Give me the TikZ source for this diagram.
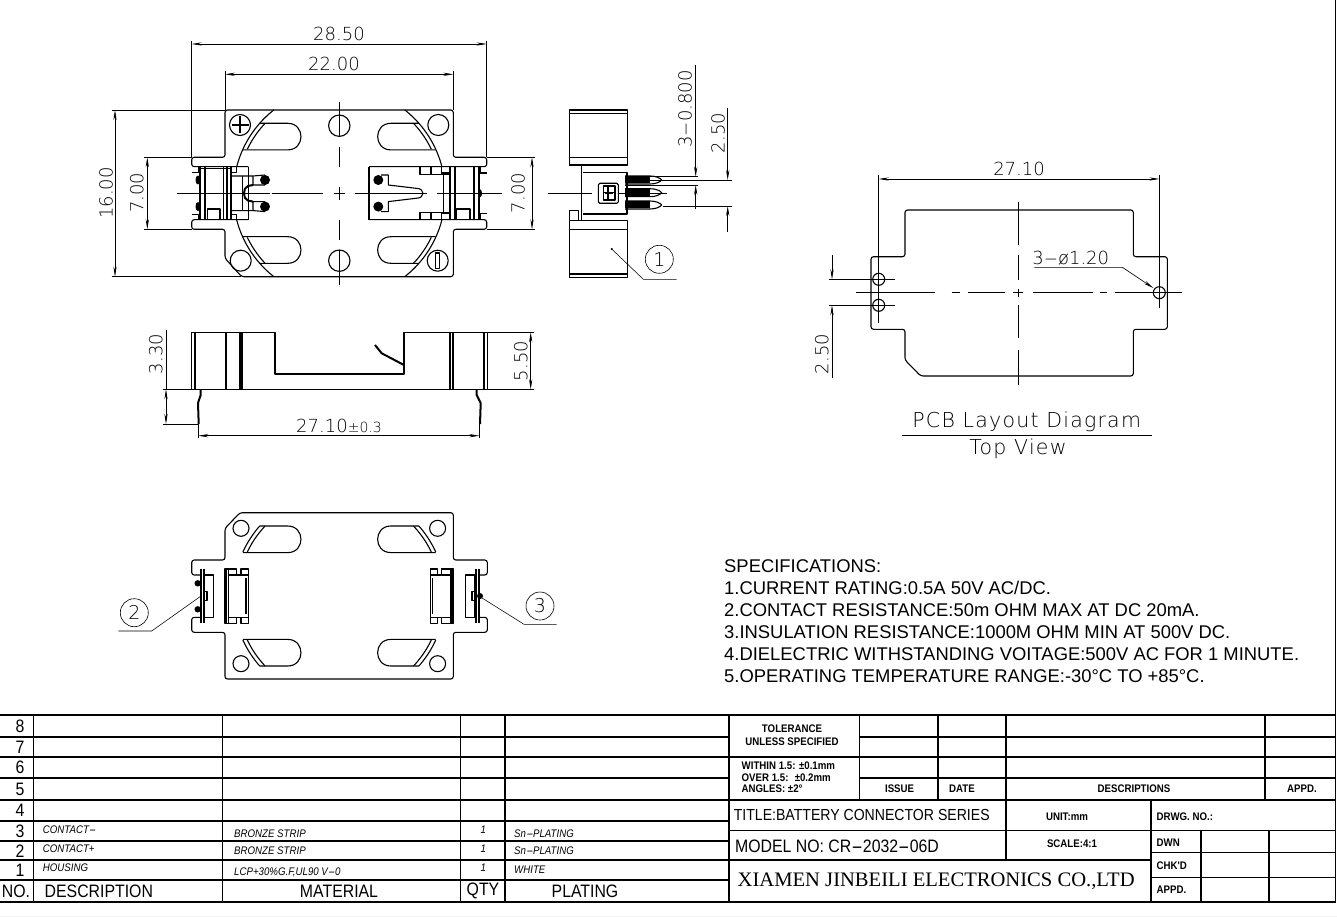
\documentclass[tikz,border=0pt]{standalone}
\usepackage{fontspec}
\usepackage{graphicx}
\usetikzlibrary{arrows.meta,positioning,calc}
\setmainfont{Liberation Sans}
\newfontfamily\cadfont{DejaVu Sans ExtraLight}
\newfontfamily\narrowfont[FakeStretch=0.88]{Liberation Sans}
\newfontfamily\serifname{Liberation Serif}
\newcommand{\fsz}[1]{\fontsize{#1}{#1}\selectfont}
\newcommand{\widedash}{\scalebox{2.2}[1]{-}}

\begin{document}
\begin{tikzpicture}[
    x=1pt, y=-1pt,
    part/.style={line width=1.1pt, line join=round},
    heavy/.style={line width=2pt},
    hair/.style={line width=0.55pt},
    center/.style={line width=0.7pt},
    dimline/.style={line width=0.6pt, >={Stealth[length=10pt,width=3.2pt]}},
    grid/.style={line width=1.1pt},
    dimtext/.style={inner sep=0pt, font=\cadfont\fsz{18}},
    rowno/.style={inner sep=0pt, font=\narrowfont\fsz{18}},
    head/.style={inner sep=0pt, font=\narrowfont\fsz{18}},
    entry/.style={inner sep=0pt, anchor=west, font=\narrowfont\itshape\fsz{11}},
    stamp/.style={inner sep=0pt, font=\narrowfont\bfseries\fsz{11}},
    balloon/.style={draw, circle, line width=0.6pt, minimum size=28pt, inner sep=0pt, font=\cadfont\fsz{19}}
]
\useasboundingbox (0,0) rectangle (1337,917);
\fill[gray!10] (0,915.5) rectangle (1337,917);

% Main view: body
\draw[part, rounded corners=2.5pt] (248.3,166.7) -- (191.7,166.7) -- (191.7,157.3) -- (225,157.3) -- (225,110) -- (453.3,110) -- (453.3,157.3) -- (486.7,157.3) -- (486.7,166.7) -- (369,166.7);
\draw[part, rounded corners=2.5pt] (248.3,219.7) -- (191.7,219.7) -- (191.7,229.3) -- (225,229.3) -- (225,258.3) -- (241.7,276.7) -- (453.3,276.7) -- (453.3,229.3) -- (486.7,229.3) -- (486.7,219.7) -- (369,219.7);
\draw[part] (248.3,166.7) -- (248.3,219.7);
\draw[part] (369,166.7) -- (369,219.7);

% Main view: slots and battery arc
\foreach \sx/\sy in {1/1,-1/1,1/-1,-1/-1} {
  \begin{scope}[shift={(339.3,193.3)}, xscale=\sx, yscale=\sy]
    \draw[part] (-79.6,-70) -- (-51.6,-70) .. controls (-33.9,-70) and (-33.9,-43.4) .. (-51.6,-43.4) -- (-96.4,-43.4);
    \draw[part] plot[domain=231.8:194.6, samples=24] ({106*cos(\x)},{106*sin(\x)});
    \draw[part] plot[domain=223.3:205.6, samples=14] ({102*cos(\x)},{102*sin(\x)});
  \end{scope}
}

% Main view: holes
\draw[part] (240,125) circle[radius=10.5];
\draw[part] (438.3,125) circle[radius=10.5];
\draw[part] (240.7,260.7) circle[radius=10.5];
\draw[part] (437.7,260.7) circle[radius=10.5];
\draw[part] (339.3,125.7) circle[radius=10.7];
\draw[part] (339.3,260.7) circle[radius=10.7];
\draw[line width=1.6pt] (231.5,125) -- (248.5,125) (240,116.5) -- (240,133.5);
\draw[part] (435.8,253) rectangle (439.6,268.4);

% Main view: contacts, mirrored top to bottom
\foreach \my/\sy in {0/1,386.6/-1} {
  \begin{scope}[shift={(0,\my)}, yscale=\sy]
    \draw[part] (191.7,172.3) -- (198.3,172.3) -- (198.3,166.7);
    \draw[part] (231.7,166.7) -- (231.7,172.3) -- (236.7,172.3) -- (236.7,166.7);
    \draw[part] (231,176) -- (253,176) -- (265,175) (253,176) -- (253,185) -- (265,185);
    \draw[part] (242.7,176) -- (242.7,193.3);
    \draw[heavy] (253,185) -- (248,186) .. controls (245,187) and (244,190) .. (244,193.3);
    \fill (265,180) circle[radius=5];
    \fill (198,180) ellipse[x radius=2.5, y radius=4.5];
    \draw[part] (420,166.7) -- (420,174.3) -- (450,174.3) (431,166.7) -- (431,174.3) (441.7,166.7) -- (441.7,174.3);
    \draw[part] (440.7,173) -- (449.3,173) -- (449.3,166.7) (480,166.7) -- (480,173) -- (486.7,173);
    \draw[part] (381,175) -- (388.3,175) -- (388.3,185) -- (416,188.3) .. controls (421,188.3) and (423,191) .. (423,193.3);
    \fill (378.3,180) circle[radius=5];
  \end{scope}
}
\draw[heavy] (200,166.7) -- (200,219.7) (205,166.7) -- (205,219.7);
\draw[part] (223.3,166.7) -- (223.3,219.7) (227,166.7) -- (227,219.7);
\draw[heavy] (231,166.7) -- (231,219.7);
\draw[part] (200,168.5) -- (231,168.5);
\draw[part] (205,219.7) -- (207.7,219.7) -- (207.7,209) -- (220,209) -- (220,219.7) -- (223.3,219.7);
\draw[part] (443.3,174.3) -- (443.3,212.3);
\draw[heavy] (450,166.7) -- (450,219.7) (455,166.7) -- (455,219.7) (474,166.7) -- (474,219.7) (479,166.7) -- (479,219.7);
\draw[part] (455,219.7) -- (456.7,219.7) -- (456.7,209) -- (470,209) -- (470,219.7) -- (474,219.7);
\fill (480,193.3) ellipse[x radius=2, y radius=4];

% Main view: center lines
\draw[center] (339.3,101.7) -- (339.3,136.7) (339.3,146.7) -- (339.3,166.7) (339.3,186.7) -- (339.3,200) (339.3,220) -- (339.3,240) (339.3,250) -- (339.3,285);
\draw[center] (176.7,193.3) -- (270,193.3) (271.7,193.3) -- (323,193.3) (334,193.3) -- (345,193.3) (355,193.3) -- (427,193.3) (437,193.3) -- (501.7,193.3);

% Main view: dimensions
\draw[hair] (191.7,40.7) -- (191.7,157.3) (486.7,40.7) -- (486.7,157.3);
\draw[dimline, <->] (191.7,44) -- (486.7,44);
\node[dimtext] (dimA) at (339,34) {28.50};
\draw[hair] (225,71) -- (225,110) (453.3,71) -- (453.3,110);
\draw[dimline, <->] (225,74.3) -- (453.3,74.3);
\node[dimtext] (dimB) at (334,64) {22.00};
\draw[hair] (111.7,110) -- (225,110) (111.7,276.7) -- (241,276.7);
\draw[dimline, <->] (115,110) -- (115,276.7);
\node[dimtext, rotate=90] (dimC) at (106,193) {16.00};
\draw[hair] (144,157.3) -- (191.7,157.3) (144,229.3) -- (191.7,229.3);
\draw[dimline, <->] (147.3,157.3) -- (147.3,229.3);
\node[dimtext, rotate=90] (dimD) at (136.7,192.7) {7.00};
\draw[hair] (486.7,157.3) -- (535,157.3) (486.7,229.3) -- (535,229.3);
\draw[dimline, <->] (532,157.3) -- (532,229.3);
\node[dimtext, rotate=90] (dimE) at (518,193) {7.00};

% Side view
\draw[part] (569.3,110) rectangle (627.3,165);
\draw[part] (569.3,220.7) rectangle (627.3,277.3);
\draw[part] (569.3,113.3) -- (627.3,113.3) (569.3,157.3) -- (627.3,157.3) (569.3,229.3) -- (627.3,229.3) (569.3,274) -- (627.3,274);
\draw[part] (569.3,165) -- (581.7,165) -- (581.7,220) (569.3,220.7) -- (569.3,210.7) -- (578.3,210.7) -- (578.3,220);
\draw[part] (583.3,172.3) -- (627,172.3) -- (627,214) -- (583.3,214);
\draw[part, rounded corners=1.5pt] (598.3,183.3) rectangle (618.3,203.3);
\draw[part] (603.3,186) rectangle (615,200) (603.3,192.7) -- (615,192.7) (608,186) -- (608,200);
\foreach \pinY in {180,192.7,205} {
  \draw[part] (625,\pinY-4) -- (650,\pinY-4) .. controls (656,\pinY-4) and (660,\pinY-2) .. (661.7,\pinY) .. controls (660,\pinY+2) and (656,\pinY+4) .. (650,\pinY+4) -- (625,\pinY+4);
  \fill (625,\pinY-3.5) rectangle (650,\pinY+3.5);
}
\draw[center] (547.7,193.3) -- (591.7,193.3) (605,193.3) -- (613,193.3) (618,193.3) -- (666.7,193.3);

% Side view: dimensions
\draw[hair] (625,176.7) -- (698.3,176.7) (625,185) -- (698.3,185);
\draw[dimline, ->] (695.7,65) -- (695.7,176.7);
\draw[dimline, ->] (695.7,209.3) -- (695.7,185);
\node[dimtext, rotate=90] (dimF) at (685,109) {3\widedash 0.800};
\draw[hair] (630,180) -- (731.7,180) (663.3,206) -- (731.7,206);
\draw[dimline, ->] (727.7,108.3) -- (727.7,180);
\draw[dimline, ->] (727.7,231.7) -- (727.7,206);
\node[dimtext, rotate=90] (dimG) at (718,133) {2.50};
\fill (611.7,249) circle[radius=1.2];
\draw[hair] (611.7,249) -- (643.3,279.3) -- (676.7,279.3);
\node[balloon] (itemA) at (659.3,259.3) {1};

% Front view
\draw[part] (191.7,332.3) -- (275,332.3) -- (275,374) -- (404,374) -- (404,332.3) -- (487.7,332.3) -- (487.7,389.3) -- (191.7,389.3) -- cycle;
\draw[part] (195,332.3) -- (195,389.3) (240,332.3) -- (240,389.3) (450,332.3) -- (450,389.3) (484,332.3) -- (484,389.3);
\draw[heavy] (225.7,332.3) -- (225.7,389.3) (242.3,332.3) -- (242.3,389.3) (453.3,332.3) -- (453.3,389.3);
\draw[heavy] (375,345) -- (381.7,353.3) -- (404,365);
\draw[heavy] (200.7,389.3) -- (200.7,395) -- (198,403) -- (198.7,424);
\draw[heavy] (476.7,389.3) -- (476.7,395) -- (480.7,403) -- (480,424);
\draw[hair] (198.3,424) -- (198.3,438) (479.3,424) -- (479.3,438);
\draw[dimline, <->] (198.3,435.7) -- (479.3,435.7);
\node[dimtext] (dimH) at (339,426) {27.10{\fsz{14}±0.3}};
\draw[hair] (162.7,389.3) -- (191.7,389.3) (162.7,424) -- (198,424);
\draw[hair] (166,330) -- (166,389.3);
\draw[dimline, <->] (166,389.3) -- (166,424);
\node[dimtext, rotate=90] (dimI) at (155.7,354) {3.30};
\draw[hair] (487.7,332.3) -- (534,332.3) (487.7,389.3) -- (534,389.3);
\draw[dimline, <->] (530.7,332.3) -- (530.7,389.3);
\node[dimtext, rotate=90] (dimJ) at (520.7,361) {5.50};

% Bottom view
\draw[part, rounded corners=2.5pt] (200,575) -- (191.7,575) -- (191.7,560) -- (225,560) -- (225,528.3) -- (240,512.7) -- (453.3,512.7) -- (453.3,560) -- (487.3,560) -- (487.3,575) -- (479,575);
\draw[part, rounded corners=2.5pt] (200,617.3) -- (191.7,617.3) -- (191.7,632.3) -- (225,632.3) -- (225,679) -- (453.3,679) -- (453.3,632.3) -- (487.3,632.3) -- (487.3,617.3) -- (479,617.3);
\foreach \sx/\sy in {1/1,-1/1,1/-1,-1/-1} {
  \begin{scope}[shift={(339.3,596)}, xscale=\sx, yscale=\sy]
    \draw[part] (-79.6,-70) -- (-51.6,-70) .. controls (-33.9,-70) and (-33.9,-43.4) .. (-51.6,-43.4) -- (-96.4,-43.4);
    \draw[part] plot[domain=221.3:204.5, samples=14] ({106*cos(\x)},{106*sin(\x)});
    \draw[part] plot[domain=223.3:205.6, samples=14] ({102*cos(\x)},{102*sin(\x)});
    \draw[part] (-98.3,-67.7) circle[radius=8];
  \end{scope}
}
\draw[heavy] (201,569) -- (201,623.3) (203.5,569) -- (203.5,623.3);
\draw[part] (204,575) rectangle (213.3,617.3);
\draw[part] (204,591.7) rectangle (207,600.7);
\fill (197.7,583.3) circle[radius=3.2];
\fill (197.7,609.3) circle[radius=3.2];
\draw[heavy] (476,569) -- (476,623.3) (478.5,569) -- (478.5,623.3);
\draw[part] (465.7,575) rectangle (475,617.3);
\draw[part] (472,591.7) rectangle (475,600.7);
\fill (480,596) circle[radius=3];
\foreach \mx/\sx in {0/1,678.6/-1} {
  \begin{scope}[shift={(\mx,0)}, xscale=\sx]
    \draw[part] (225,569) -- (236.7,569) -- (236.7,575) -- (241,575) -- (241,569) -- (248.3,569) -- (248.3,623.3) -- (241,623.3) -- (241,617.3) -- (236.7,617.3) -- (236.7,623.3) -- (225,623.3) -- cycle;
    \draw[heavy] (226.2,569) -- (226.2,623.3);
    \draw[part] (228.5,569) -- (228.5,623.3) (228.5,575) -- (236.7,575) (228.5,617.3) -- (236.7,617.3) (241,575) -- (248.3,575) (241,617.3) -- (248.3,617.3);
    \draw[part] (246,578) -- (246,614);
  \end{scope}
}
\draw[hair] (118.3,631) -- (151.7,631) -- (200,596.7);
\node[balloon] (itemB) at (134.3,612.7) {2};
\draw[hair] (556.7,624.3) -- (524,624.3) -- (480,596.7);
\node[balloon] (itemC) at (540,606) {3};

% PCB layout
\draw[part, rounded corners=2.5pt] (905,256.7) -- (905,210) -- (1133.3,210) -- (1133.3,256.7) -- (1167.3,256.7) -- (1167.3,329.3) -- (1133.3,329.3) -- (1133.3,376) -- (920.7,376) -- (905,360) -- (905,329.3) -- (871,329.3) -- (871,256.7) -- cycle;
\draw[part] (878.7,279.3) circle[radius=6];
\draw[part] (878.7,305.3) circle[radius=6];
\draw[part] (1159.3,292.7) circle[radius=6];
\draw[center] (1018.7,201.7) -- (1018.7,245) (1018.7,255) -- (1018.7,280) (1018.7,289) -- (1018.7,296.7) (1018.7,305) -- (1018.7,338) (1018.7,350) -- (1018.7,385);
\draw[center] (856,292.7) -- (935,292.7) (951.7,292.7) -- (960,292.7) (968,292.7) -- (1005,292.7) (1013,292.7) -- (1023,292.7) (1033,292.7) -- (1093,292.7) (1100,292.7) -- (1107,292.7) (1115,292.7) -- (1181.7,292.7);
\draw[hair] (878.7,175) -- (878.7,323.3) (1159.3,175) -- (1159.3,308.3);
\draw[dimline, <->] (878.7,179) -- (1159.3,179);
\node[dimtext] (dimK) at (1019,169.3) {27.10};
\draw[hair] (829.3,279.3) -- (895,279.3) (829.3,305.3) -- (895,305.3);
\draw[dimline, ->] (832,255) -- (832,279.3);
\draw[dimline, ->] (832,377.7) -- (832,305.3);
\node[dimtext, rotate=90] (dimL) at (821.7,354) {2.50};
\draw[dimline, ->] (1034.3,267.3) -- (1122.3,267.3) -- (1153.3,288);
\node[dimtext] (dimM) at (1070.7,258.3) {3\widedash ø1.20};
\node[dimtext, font=\cadfont\fsz{20.5}\addfontfeature{LetterSpace=6}] (pcbname) at (1026.7,421.7) {PCB Layout Diagram};
\node[dimtext, font=\cadfont\fsz{20.5}\addfontfeature{LetterSpace=6}] (pcbview) at (1018,449.3) {Top View};
\draw[hair] (902.3,435.7) -- (1151.7,435.7);

% Specifications
\node[inner sep=0pt, anchor=north west, align=left, font=\fontsize{18.4}{22.1}\selectfont] (specs) at (724,559.3) {SPECIFICATIONS:\\1.CURRENT RATING:0.5A 50V AC/DC.\\2.CONTACT RESISTANCE:50m OHM MAX AT DC 20mA.\\3.INSULATION RESISTANCE:1000M OHM MIN AT 500V DC.\\4.DIELECTRIC WITHSTANDING VOITAGE:500V AC FOR 1 MINUTE.\\5.OPERATING TEMPERATURE RANGE:-30°C TO +85°C.};

% Table grid
\draw[grid] (0,715) -- (1335.5,715) (1335.5,0) -- (1335.5,902);
\foreach \rowY in {737,757,778,800} \draw[grid] (0,\rowY) -- (729,\rowY);
\foreach \rowY in {821,841,860,880} \draw[grid] (0,\rowY) -- (729,\rowY);
\draw[grid] (0,902) -- (1335.5,902);
\foreach \colX in {33.5,222.6,460.5,505,729} \draw[grid] (\colX,715) -- (\colX,902);
\draw[grid] (729,757) -- (859.6,757) (729,800) -- (1335.5,800);
\foreach \rowY in {737,757,778} \draw[grid] (859.6,\rowY) -- (1335.5,\rowY);
\draw[grid] (859.6,715) -- (859.6,800) (938,715) -- (938,800) (1006,715) -- (1006,860) (1265,715) -- (1265,800);
\draw[grid] (729,830.7) -- (1335.5,830.7) (729,860) -- (1151,860) (1151,852.7) -- (1335.5,852.7) (1151,877.3) -- (1335.5,877.3);
\draw[grid] (1151,800) -- (1151,902) (1201,830.7) -- (1201,902) (1269,830.7) -- (1269,902);

% Table text
\foreach \rowNo/\rowY in {8/726,7/747,6/767.5,5/789,4/810,3/831,2/851,1/870} \node[rowno] (row\rowNo) at (20,\rowY) {\rowNo};
\node[head] (hNo) at (16,891) {NO.};
\node[head, anchor=west] (hDesc) at (44.5,891) {DESCRIPTION};
\node[head] (hMat) at (339,891) {MATERIAL};
\node[head] (hQty) at (483,891) {QTY};
\node[head] (hPlat) at (585,891) {PLATING};
\node[entry] (d3) at (42.7,830) {CONTACT\widedash};
\node[entry] (d2) at (42.7,849) {CONTACT+};
\node[entry] (d1) at (42.7,868) {HOUSING};
\node[entry] (m3) at (234,833.3) {BRONZE STRIP};
\node[entry] (m2) at (234,851) {BRONZE STRIP};
\node[entry] (m1) at (234,872.7) {LCP+30\%G.F,UL90 V\widedash 0};
\node[entry] (q3) at (480.5,830) {1};
\node[entry] (q2) at (480.5,849) {1};
\node[entry] (q1) at (480.5,868) {1};
\node[entry] (p3) at (514,833.3) {Sn\widedash PLATING};
\node[entry] (p2) at (514,851) {Sn\widedash PLATING};
\node[entry] (p1) at (514,870) {WHITE};

\node[stamp] (tolA) at (792,729) {TOLERANCE};
\node[stamp] (tolB) at (792,741.7) {UNLESS SPECIFIED};
\node[stamp, anchor=west] (tolC) at (741.5,766) {WITHIN 1.5: ±0.1mm};
\node[stamp, anchor=west] (tolD) at (741.5,777.7) {OVER 1.5: \ ±0.2mm};
\node[stamp, anchor=west] (tolE) at (741.5,789) {ANGLES: ±2°};
\node[stamp] (hIssue) at (899.6,788.3) {ISSUE};
\node[stamp] (hDate) at (962,788.3) {DATE};
\node[stamp] (hDescs) at (1134,788.3) {DESCRIPTIONS};
\node[stamp] (hAppd) at (1302,788.3) {APPD.};
\node[inner sep=0pt, anchor=west, font=\narrowfont\fsz{16}] (title) at (733.6,815) {TITLE:BATTERY CONNECTOR SERIES};
\node[inner sep=0pt, anchor=west, font=\narrowfont\fsz{18}] (model) at (735,846.7) {MODEL NO: CR\widedash 2032\widedash 06D};
\node[inner sep=0pt, anchor=west, font=\serifname\fsz{20.6}] (maker) at (737.5,881) {XIAMEN JINBEILI ELECTRONICS CO.,LTD};
\node[stamp] (unit) at (1067,817) {UNIT:mm};
\node[stamp] (scale) at (1072,844) {SCALE:4:1};
\node[stamp, anchor=west] (drwg) at (1156.5,817) {DRWG. NO.:};
\node[stamp, anchor=west] (dwn) at (1156.5,842.3) {DWN};
\node[stamp, anchor=west] (chk) at (1156.5,865.7) {CHK'D};
\node[stamp, anchor=west] (appd) at (1156.5,890) {APPD.};

\end{tikzpicture}
\end{document}
